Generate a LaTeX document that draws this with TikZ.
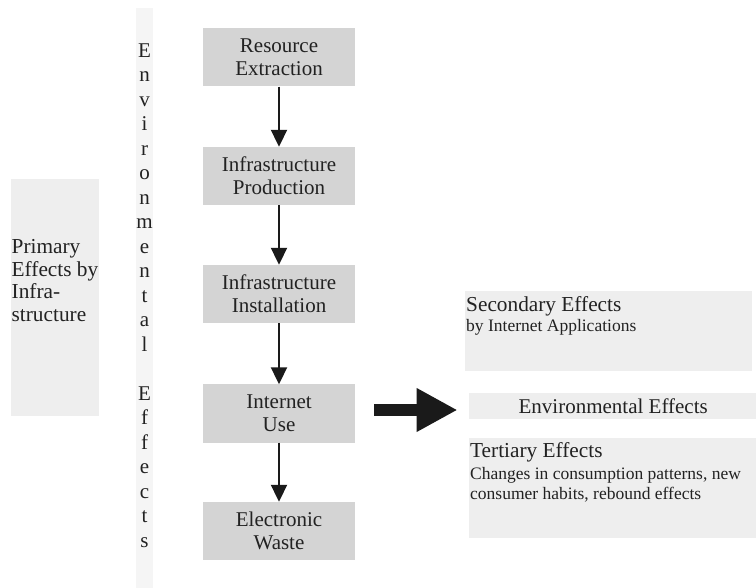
\documentclass[tikz,border=0pt]{standalone}
\usepackage{fontspec}
\setmainfont{Liberation Serif}
\usepackage{tikz}
\usetikzlibrary{arrows.meta}
\usetikzlibrary{positioning}
\usepackage{xcolor}

\definecolor{flowgray}{HTML}{D4D4D4}
\definecolor{paleback}{HTML}{EEEEEE}
\definecolor{stripback}{HTML}{F5F5F5}
\definecolor{inkcol}{HTML}{222222}
\definecolor{arrowcol}{HTML}{1A1A1A}

\tikzset{
  flowbox/.style={fill=flowgray, minimum width=152pt, minimum height=58pt, inner sep=0pt,
    align=center, text=inkcol, font=\fontsize{21}{22.7}\selectfont},
  palebox/.style={fill=paleback, inner sep=0pt, anchor=north west, text=inkcol,
    font=\fontsize{21}{22.7}\selectfont},
  boxtext/.style={anchor=north west, inner sep=0pt, align=left, text=inkcol},
  flowarrow/.style={draw=arrowcol, line width=2pt, -{Triangle[width=16pt,length=17pt]}},
}

\begin{document}
\begin{tikzpicture}[x=1pt,y=-1pt]
\useasboundingbox (0,0) rectangle (756,588);
% left column
\node[palebox, minimum width=88pt, minimum height=237pt] (primbox) at (11,179) {};
\node[boxtext, font=\fontsize{21.3}{22.7}\selectfont] (primtext) at (11.5,239.2)
  {Primary\\Effects by\\Infra-\\structure};
\fill[stripback] (136,8) rectangle (153,588);
\node[inner sep=0pt, anchor=north, align=center, text=inkcol,
  font=\fontsize{21}{24.5}\selectfont] (envletters) at (144.5,43.1)
  {E\\n\\v\\i\\r\\o\\n\\m\\e\\n\\t\\a\\l\\\mbox{}\\E\\f\\f\\e\\c\\t\\s};
% the chain
\node[flowbox] (extraction) at (279,57.5) {Resource\\Extraction};
\node[flowbox] (production) at (279,176) {Infrastructure\\Production};
\node[flowbox] (installation) at (279,294) {Infrastructure\\Installation};
\node[flowbox] (use) at (279,413.5) {Internet\\Use};
\node[flowbox] (ewaste) at (279,531) {Electronic\\Waste};
\draw[flowarrow] (extraction) -- (production);
\draw[flowarrow] (production) -- (installation);
\draw[flowarrow] (installation) -- (use);
\draw[flowarrow] (use) -- (ewaste);
% big arrow
\coordinate (bigtail) at (374,410);
\coordinate (bighead) at (457.5,410);
\draw[arrowcol, line width=12pt, -{Triangle[width=41pt,length=41pt]}] (bigtail) -- (bighead);
% right column
\node[palebox, minimum width=287pt, minimum height=80pt] (secbox) at (465,291) {};
\node[boxtext, font=\fontsize{17.5}{20.3}\selectfont] (sectext) at (466,296.4)
  {{\fontsize{21.3}{22.7}\selectfont Secondary Effects}\\by Internet Applications};
\node[palebox, minimum width=288pt, minimum height=26pt] (envbox) at (469,393) {Environmental Effects};
\node[palebox, minimum width=288pt, minimum height=100pt] (terbox) at (469,438) {};
\node[boxtext, font=\fontsize{17.5}{19.7}\selectfont] (tertext) at (470,442.4)
  {{\fontsize{21.3}{22.7}\selectfont Tertiary Effects}\\[2.6pt]Changes in consumption patterns, new\\consumer habits, rebound effects};
\end{tikzpicture}
\end{document}
